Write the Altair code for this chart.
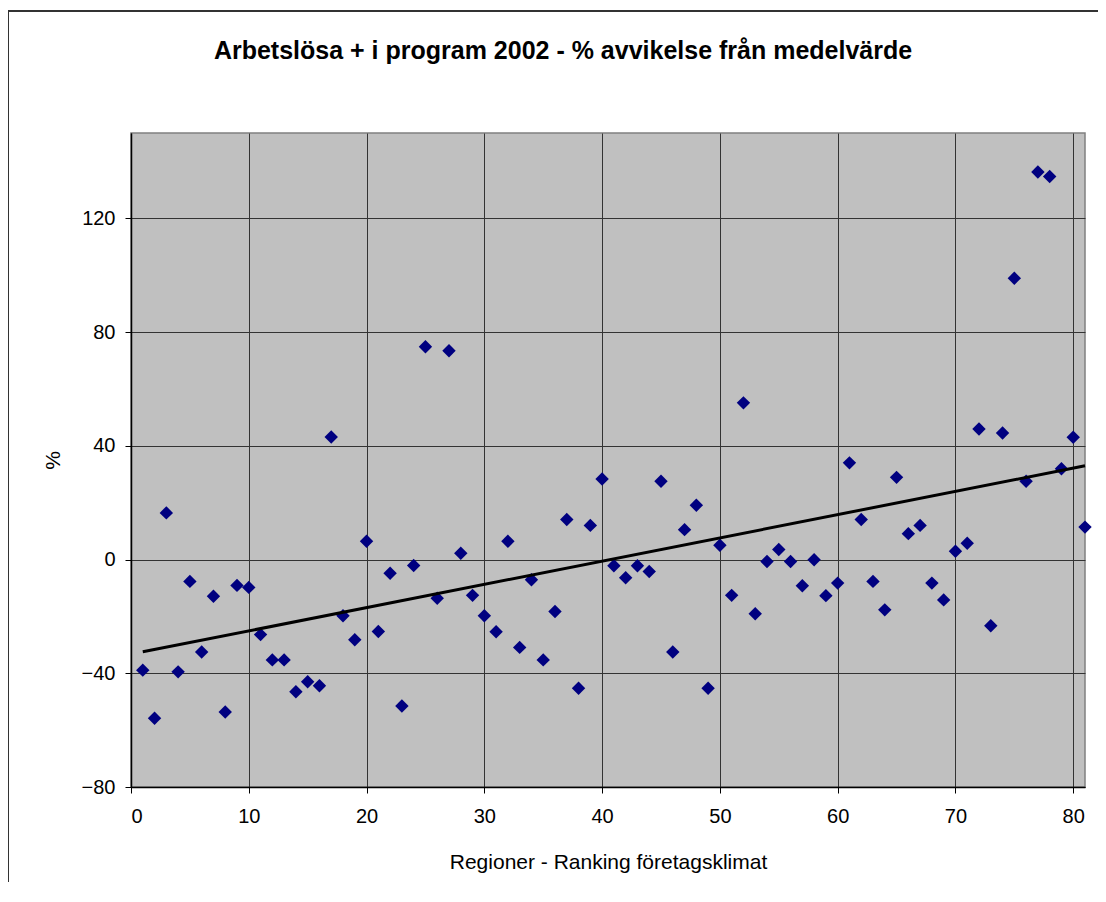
import altair as alt
import pandas as pd

rank = list(range(1, 82))
deviation = [
    -38.9, -55.8, 16.4, -39.5, -7.7, -32.5, -12.9, -53.6, -9.1, -9.8,
    -26.4, -35.3, -35.3, -46.5, -43.0, -44.4, 43.1, -19.8, -28.2, 6.4,
    -25.3, -4.8, -51.5, -2.1, 74.8, -13.6, 73.4, 2.2, -12.6, -19.8,
    -25.4, 6.4, -30.9, -7.1, -35.3, -18.3, 14.1, -45.3, 12.0, 28.3,
    -2.2, -6.4, -2.2, -4.2, 27.5, -32.5, 10.5, 19.1, -45.3, 5.0,
    -12.6, 55.1, -19.1, -0.7, 3.5, -0.7, -9.2, -0.1, -12.7, -8.3,
    34.0, 14.1, -7.7, -17.7, 28.9, 9.1, 12.0, -8.3, -14.2, 2.9,
    5.7, 45.9, -23.3, 44.5, 98.9, 27.5, 136.3, 134.7, 31.9, 43.0,
    11.4,
]
x_ticks = [0, 10, 20, 30, 40, 50, 60, 70, 80]
y_ticks = [-80, -40, 0, 40, 80, 120]

df = pd.DataFrame({"rank": rank, "dev": deviation})

xs = alt.Scale(domain=[0, 81], nice=False, zero=False)
ys = alt.Scale(domain=[-80, 150], nice=False, zero=False)

x_enc = alt.X("rank:Q", scale=xs,
              axis=alt.Axis(values=x_ticks, title="Regioner - Ranking företagsklimat",
                            titlePadding=25, labelPadding=13))
y_enc = alt.Y("dev:Q", scale=ys,
              axis=alt.Axis(values=y_ticks, title="%", titlePadding=18, labelPadding=10))

points = alt.Chart(df).mark_point(
    shape="diamond", filled=True, color="#000080", size=180, opacity=1
).encode(x=x_enc, y=y_enc)

trend = alt.Chart(df).transform_regression("rank", "dev").mark_line(
    color="black", strokeWidth=3
).encode(x=alt.X("rank:Q", scale=xs), y=alt.Y("dev:Q", scale=ys))

frame = alt.Chart(pd.DataFrame({"f": [0]})).mark_rect(
    fill="transparent", stroke="#333333", strokeWidth=2, clip=False
).encode(x=alt.value(-123), y=alt.value(-122), x2=alt.value(3000), y2=alt.value(3000))

chart = alt.layer(frame, points, trend).properties(
    width=954,
    height=654,
    background="white",
    autosize=alt.AutoSizeParams(type="none"),
    padding={"left": 123, "top": 125, "right": 13, "bottom": 95},
    title=alt.TitleParams(
        "Arbetslösa + i program 2002 - % avvikelse från medelvärde",
        anchor="middle", frame="group", dx=-45, offset=-74, baseline="alphabetic",
        fontSize=25, fontWeight="bold", font="Liberation Sans", color="black",
    ),
).configure_view(
    fill="#C0C0C0", stroke="#808080", strokeWidth=1.5
).configure_axis(
    labelFont="Liberation Sans", titleFont="Liberation Sans",
    labelFontSize=20, titleFontSize=21, titleFontWeight="normal",
    labelColor="black", titleColor="black",
    tickColor="black", tickSize=6, domainColor="black", domainWidth=1.5,
    gridColor="#333333", gridWidth=1, gridOpacity=1,
)

chart.save("out.html", embed_options={"renderer": "svg", "actions": False})
